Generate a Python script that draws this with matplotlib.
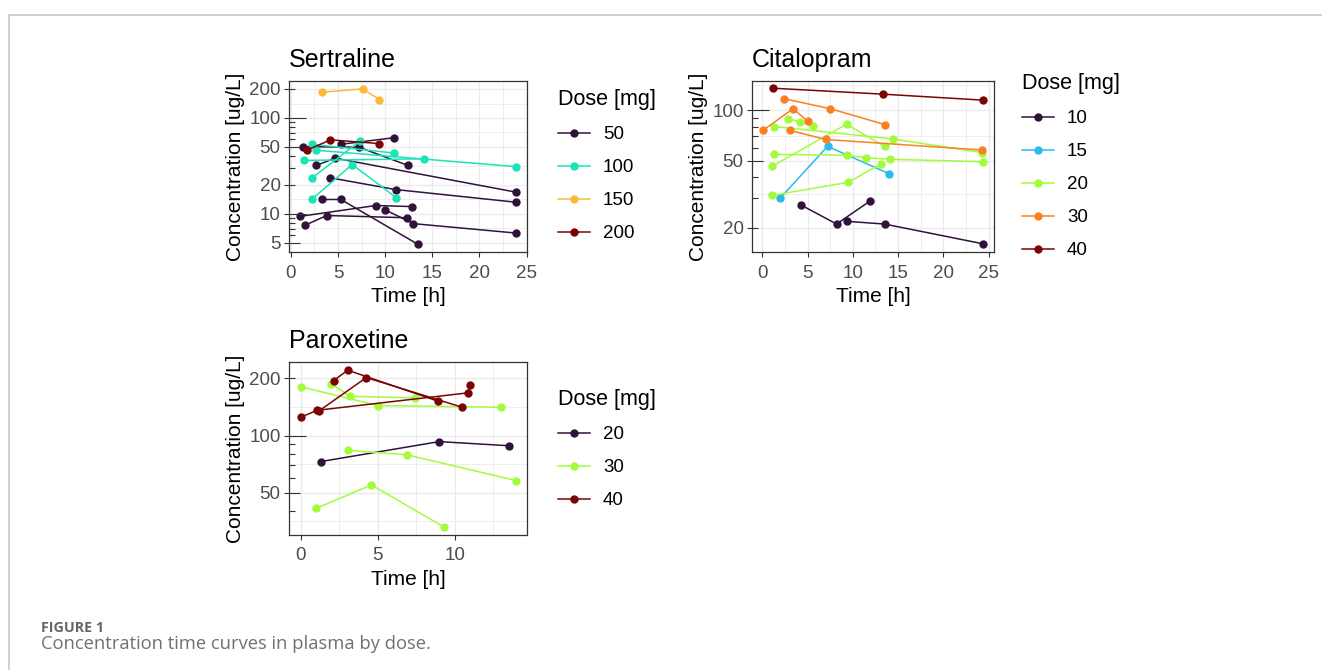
import numpy as np
import matplotlib
matplotlib.use("Agg")
import matplotlib.pyplot as plt
from matplotlib.lines import Line2D
from matplotlib.transforms import blended_transform_factory

plt.rcParams['font.family'] = ['Liberation Sans', 'DejaVu Sans']

# ---- data: one entry per subject (dose, times [h], concentrations [ug/L])
sert_dose = [50, 50, 50, 50, 50, 50, 50, 50,
             100, 100, 100, 100, 100, 150, 200]
sert_time = [[3.25, 5.3, 13.5], [0.95, 9.0, 12.8], [1.5, 3.8, 12.3],
             [10.0, 13.0, 23.9], [4.2, 11.1, 23.9], [2.7, 4.7, 23.9],
             [1.3, 7.2, 12.4], [5.3, 10.9],
             [2.2, 10.95], [2.65, 23.9], [1.4, 14.1], [2.26, 7.3],
             [2.26, 6.5, 11.2],
             [3.3, 7.6, 9.4], [1.7, 4.2, 9.3]]
sert_conc = [[14.1, 14.1, 4.8], [9.4, 12.2, 11.9], [7.6, 9.6, 9.1],
             [11.0, 7.9, 6.3], [23.7, 17.9, 13.2], [32, 38, 16.8],
             [50, 49.5, 32], [53, 62],
             [53, 43], [46, 31], [36, 37.4], [23.7, 57],
             [14.3, 32.6, 14.7],
             [185, 200, 155], [46, 59, 54]]

cita_dose = [10, 10, 15, 20, 20, 20, 20, 20, 30, 30, 30, 40]
cita_time = [[4.3, 8.2, 11.9], [9.3, 13.5, 24.4], [2.0, 7.2, 14.0],
             [1.26, 14.4, 24.3], [2.85, 4.2, 5.6], [1.04, 9.3, 13.5],
             [1.26, 9.3, 11.4, 14.1, 24.4], [1.04, 9.5, 13.1],
             [0.07, 3.4, 5.0], [2.4, 7.5, 13.6], [3.0, 7.0, 24.3],
             [1.2, 13.3, 24.4]]
cita_conc = [[27.3, 21.1, 28.9], [21.9, 21.1, 16.1], [30.2, 61, 42],
             [80, 67.5, 56], [89, 85, 81], [46.4, 82.5, 61],
             [54.7, 54, 52.3, 51.1, 49.5], [31.2, 37.3, 48.1],
             [76, 102, 86], [117, 102, 82], [76, 67, 58],
             [135, 124.5, 114.7]]

parox_dose = [20, 30, 30, 30, 30, 40, 40, 40]
parox_time = [[1.3, 9.0, 13.5], [0.0, 5.0, 13.0], [2.0, 3.2, 7.4],
              [3.06, 6.9, 14.0], [1.0, 4.6, 9.3],
              [0.0, 1.1, 10.9, 11.0], [2.16, 3.06, 8.9], [1.2, 4.27, 10.5]]
parox_conc = [[73, 93, 88.5], [181, 144, 141], [188, 161, 158],
              [83.6, 79.3, 58], [41.4, 55, 33.1],
              [125, 136, 168, 184], [195, 221, 152], [135, 202, 141]]

sert_levels = [50, 100, 150, 200]
cita_levels = [10, 15, 20, 30, 40]
parox_levels = [20, 30, 40]

# turbo palette as used by viridis "turbo"
turbo = {3: ["#30123B", "#A2FC3C", "#7A0403"],
         4: ["#30123B", "#1AE4B6", "#FABA39", "#7A0403"],
         5: ["#30123B", "#28BBEC", "#A2FC3C", "#FB8022", "#7A0403"]}

W, H = 1322, 670
fig = plt.figure(figsize=(W / 100, H / 100), dpi=100)


def axpos(l, r, t, b):
    return [l / W, 1 - b / H, (r - l) / W, (b - t) / H]


def logticks(ax, lo, hi):
    tr = blended_transform_factory(ax.transAxes, ax.transData)
    wpx = ax.get_position().width * W
    for k in range(-1, 4):
        for m in range(1, 10):
            v = m * 10 ** k
            if not (lo < v < hi):
                continue
            L = 17 if m == 1 else (11 if m == 5 else 6)
            ax.plot([0, L / wpx], [v, v], transform=tr, color='#333333',
                    lw=0.8, solid_capstyle='butt', clip_on=False, zorder=4)


def panel(pos, title, dose, times, concs, levels, xlim, ylim, xmaj, xmin,
          ymaj, ymin, leg_xy):
    ax = fig.add_axes(axpos(*pos))
    cols = dict(zip(levels, turbo[len(levels)]))
    for d, t, c in zip(dose, times, concs):
        ax.plot(t, c, color=cols[d], lw=1.1, marker='o', ms=5, zorder=3)
    ax.set_yscale('log')
    ax.set_xlim(*xlim)
    ax.set_ylim(*ylim)
    ax.set_xticks(xmaj)
    ax.set_xticks(xmin, minor=True)
    ax.set_yticks(ymaj)
    ax.set_yticklabels([str(v) for v in ymaj])
    ax.set_yticks(ymin, minor=True)
    ax.yaxis.set_minor_formatter(plt.NullFormatter())
    ax.grid(which='major', color='#EBEBEB', lw=1.0, zorder=0)
    ax.grid(which='minor', color='#EBEBEB', lw=0.6, zorder=0)
    ax.set_axisbelow(True)
    ax.tick_params(which='major', length=3.5, width=0.8, color='#333333',
                   labelsize=13.5, labelcolor='#4D4D4D')
    ax.tick_params(axis='y', pad=2.5)
    ax.tick_params(axis='x', pad=5.5)
    ax.tick_params(which='minor', length=0)
    for s in ax.spines.values():
        s.set_color('#333333')
        s.set_linewidth(0.9)
    ax.set_title(title, loc='left', fontsize=18, pad=10)
    ax.set_xlabel('Time [h]', fontsize=15, labelpad=4)
    ax.set_ylabel('Concentration [ug/L]', fontsize=15, labelpad=3)
    logticks(ax, ylim[0], ylim[1])
    handles = [Line2D([], [], color=cols[l], lw=1.1, marker='o', ms=5)
               for l in levels]
    ax.legend(handles, [str(l) for l in levels], loc='upper left',
              bbox_to_anchor=(leg_xy[0] / W, 1 - leg_xy[1] / H),
              bbox_transform=fig.transFigure, frameon=False,
              title='Dose [mg]', title_fontsize=15.5, fontsize=13.5,
              alignment='left', handlelength=1.7, handletextpad=0.7,
              labelspacing=0.85, borderpad=0, borderaxespad=0)
    return ax


panel((289, 527, 81, 252), 'Sertraline', sert_dose, sert_time, sert_conc,
      sert_levels, (-0.2, 25.05), (4.0, 242),
      [0, 5, 10, 15, 20, 25], [2.5, 7.5, 12.5, 17.5, 22.5],
      [5, 10, 20, 50, 100, 200], [7.07, 14.1, 31.6, 70.7, 141],
      (558, 89))

panel((752, 994, 81, 252), 'Citalopram', cita_dose, cita_time, cita_conc,
      cita_levels, (-1.15, 25.6), (14.4, 149),
      [0, 5, 10, 15, 20, 25], [2.5, 7.5, 12.5, 17.5, 22.5],
      [20, 50, 100], [31.6, 70.7, 141],
      (1022, 73))

panel((289, 527, 362, 535), 'Paroxetine', parox_dose, parox_time, parox_conc,
      parox_levels, (-0.75, 14.7), (30, 244),
      [0, 5, 10], [2.5, 7.5, 12.5],
      [50, 100, 200], [35.4, 70.7, 141],
      (558, 389))

# page frame and caption
fig.add_artist(Line2D([9 / W, 1], [1 - 14.5 / H, 1 - 14.5 / H],
                      color='#C8C8C8', lw=1.2))
fig.add_artist(Line2D([9 / W, 9 / W], [0, 1 - 14.5 / H],
                      color='#C8C8C8', lw=1.2))
fig.text(41 / W, 1 - 628 / H, 'FIGURE 1', fontsize=10.3, fontweight='bold',
         color='#666666', family='Open Sans', va='center')
fig.text(41 / W, 1 - 644 / H, 'Concentration time curves in plasma by dose.',
         fontsize=13.2, color='#707070', family='Open Sans', va='center')

fig.savefig('out.png', dpi=100)
